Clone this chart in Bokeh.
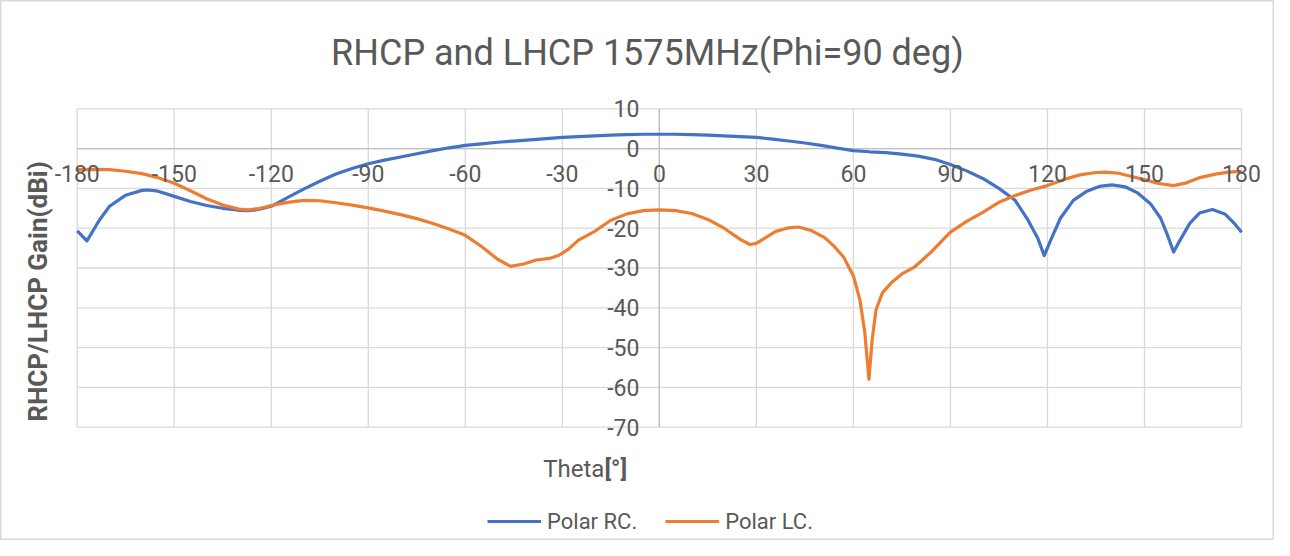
from bokeh.plotting import figure
from bokeh.models import Label, Legend, LegendItem, Range1d
from bokeh.core.properties import value
from bokeh.embed import file_html
from bokeh.resources import INLINE
import math

# ---- data ----
theta_rc = [-180, -177, -173, -170, -165, -160, -158, -155, -150, -145, -140, -135, -130, -127, -124,
            -120, -115, -110, -105, -100, -95, -90, -85, -80, -75, -70, -65, -60, -55, -50, -45,
            -40, -35, -30, -25, -20, -15, -10, -5, 0, 5, 10, 15, 20, 25, 30, 35, 40, 45, 50, 55,
            60, 65, 70, 75, 80, 85, 90, 95, 100, 105, 110, 114, 117, 119, 121, 124, 128, 132, 136,
            140, 144, 148, 152, 155, 157, 159, 161, 164, 167, 171, 175, 178, 180]
gain_rc = [-20.7, -23.2, -17.8, -14.5, -11.7, -10.5, -10.4, -10.7, -12.0, -13.3, -14.3, -15.0, -15.5,
           -15.6, -15.3, -14.5, -12.3, -10.2, -8.2, -6.4, -5.0, -3.8, -2.9, -2.1, -1.3, -0.5, 0.2,
           0.8, 1.2, 1.6, 1.9, 2.2, 2.5, 2.8, 3.0, 3.2, 3.4, 3.5, 3.6, 3.6, 3.6, 3.5, 3.4, 3.2, 3.0,
           2.8, 2.4, 1.9, 1.4, 0.8, 0.1, -0.5, -0.8, -1.0, -1.4, -1.9, -2.7, -4.0, -5.6, -7.5,
           -10.0, -13.0, -18.0, -22.5, -26.9, -23.0, -17.5, -13.0, -10.8, -9.5, -9.1, -9.6, -11.2,
           -14.0, -17.5, -21.5, -26.0, -23.0, -18.8, -16.2, -15.3, -16.5, -19.0, -21.0]

theta_lc = [-180, -175, -170, -165, -160, -155, -150, -145, -140, -135, -130, -127, -124, -120, -115,
            -110, -105, -100, -95, -90, -85, -80, -75, -70, -65, -60, -55, -50, -46, -42, -38, -34,
            -31, -28, -25, -20, -15, -10, -5, 0, 5, 10, 15, 20, 25, 28, 30, 33, 36, 40, 43, 47, 51, 54,
            57, 60, 62, 63.5, 64.8, 65.8, 67, 69, 72, 75, 79, 84, 90, 95, 100, 105, 110, 115, 120,
            125, 130, 135, 138, 142, 146, 150, 154, 159, 163, 167, 172, 176, 180]
gain_lc = [-5.3, -5.2, -5.3, -5.7, -6.3, -7.3, -8.7, -10.6, -12.6, -14.2, -15.2, -15.4, -15.1, -14.3,
           -13.5, -13.0, -13.1, -13.6, -14.2, -14.9, -15.7, -16.6, -17.6, -18.8, -20.2, -21.8, -24.6,
           -27.8, -29.6, -29.0, -28.0, -27.6, -26.8, -25.2, -23.0, -20.8, -18.0, -16.4, -15.6, -15.4,
           -15.6, -16.3, -17.8, -20.0, -22.8, -24.1, -23.8, -22.3, -20.8, -19.9, -19.7, -20.6, -22.3,
           -24.5, -27.3, -32.0, -38.0, -46.0, -58.0, -48.0, -40.5, -36.2, -33.5, -31.5, -29.7, -26.0,
           -21.0, -18.3, -16.0, -13.5, -11.8, -10.4, -9.3, -7.8, -6.6, -6.0, -5.9, -6.2, -7.0, -7.8,
           -8.7, -9.3, -8.6, -7.3, -6.4, -5.9, -5.7]

x_ticks = [-180, -150, -120, -90, -60, -30, 0, 30, 60, 90, 120, 150, 180]
x_tick_labels = ["-180", "-150", "-120", "-90", "-60", "-30", "0", "30", "60", "90", "120", "150", "180"]
y_ticks = [10, 0, -10, -20, -30, -40, -50, -60, -70]
y_tick_labels = ["10", "0", "-10", "-20", "-30", "-40", "-50", "-60", "-70"]

title_text = "RHCP and LHCP 1575MHz(Phi=90 deg)"
y_title = "RHCP/LHCP Gain(dBi)"
x_title_a = "Theta"
x_title_b = "[°]"
names = ["Polar RC.", "Polar LC."]
colors = ["#4472C4", "#ED7D31"]

TXT = "#595959"
GRID = "#d9d9d9"
AXIS = "#bfbfbf"
FONT = "Roboto"

X0, X1 = -180, 180
Y0, Y1 = -70, 10

# frame covers the whole canvas; the plot area (-180..180, -70..10) sits inside it
p = figure(width=1274, height=540, output_backend="svg", toolbar_location=None,
           x_range=Range1d(-203.72, 190.2), y_range=Range1d(-98.47, 37.21),
           x_axis_location=None, y_axis_location=None, min_border=0)
p.grid.visible = False
p.outline_line_color = GRID
p.outline_line_width = 2
p.background_fill_color = "white"
p.border_fill_color = "white"

# grid lines of the plot area
p.segment(x0=x_ticks, x1=x_ticks, y0=[Y0] * len(x_ticks), y1=[Y1] * len(x_ticks),
          line_color=GRID, line_width=1.3)
p.segment(x0=[X0] * len(y_ticks), x1=[X1] * len(y_ticks), y0=y_ticks, y1=y_ticks,
          line_color=GRID, line_width=1.3)
# axis lines crossing at zero
p.segment(x0=[0], x1=[0], y0=[Y0], y1=[Y1], line_color=AXIS, line_width=1.3)
p.segment(x0=[X0], x1=[X1], y0=[0], y1=[0], line_color=AXIS, line_width=1.3)

r1 = p.line(theta_rc, gain_rc, line_color=colors[0], line_width=3.2, line_join="round")
r2 = p.line(theta_lc, gain_lc, line_color=colors[1], line_width=3.2, line_join="round")

# tick labels
p.text(x=x_ticks, y=[0] * len(x_ticks), text=x_tick_labels, y_offset=25,
       text_align="center", text_baseline="middle", text_font=value(FONT),
       text_font_size=value("23px"), text_color=TXT)
p.text(x=[0] * len(y_ticks), y=y_ticks, text=y_tick_labels, x_offset=-20,
       text_align="right", text_baseline="middle", text_font=value(FONT),
       text_font_size=value("23px"), text_color=TXT)

p.add_layout(Label(x=-3.7, y=24.1, text=title_text, text_align="center", text_baseline="middle",
                   text_font=FONT, text_font_size="36px", text_color=TXT))
p.add_layout(Label(x=-192.0, y=-35.9, text=y_title, angle=math.pi / 2, text_align="center",
                   text_baseline="middle", text_font=FONT, text_font_size="26px",
                   text_font_style="bold", text_color=TXT))
p.add_layout(Label(x=-17.0, y=-80.4, text=x_title_a, text_align="right", text_baseline="middle",
                   text_font=FONT, text_font_size="24px", text_color=TXT))
p.add_layout(Label(x=-17.0, y=-80.4, text=x_title_b, text_align="left", text_baseline="middle",
                   text_font=FONT, text_font_size="24px", text_font_style="bold", text_color=TXT))

legend = Legend(items=[LegendItem(label=names[0], renderers=[r1]),
                       LegendItem(label=names[1], renderers=[r2])],
                location=(487, 6), orientation="horizontal",
                border_line_color=None, background_fill_alpha=0,
                label_text_font=FONT, label_text_font_size="22px", label_text_color=TXT,
                glyph_width=54, glyph_height=26, label_height=26, label_standoff=6,
                spacing=28, padding=0, margin=0)
p.add_layout(legend, "center")

open("out.html", "w").write(file_html(p, INLINE))
